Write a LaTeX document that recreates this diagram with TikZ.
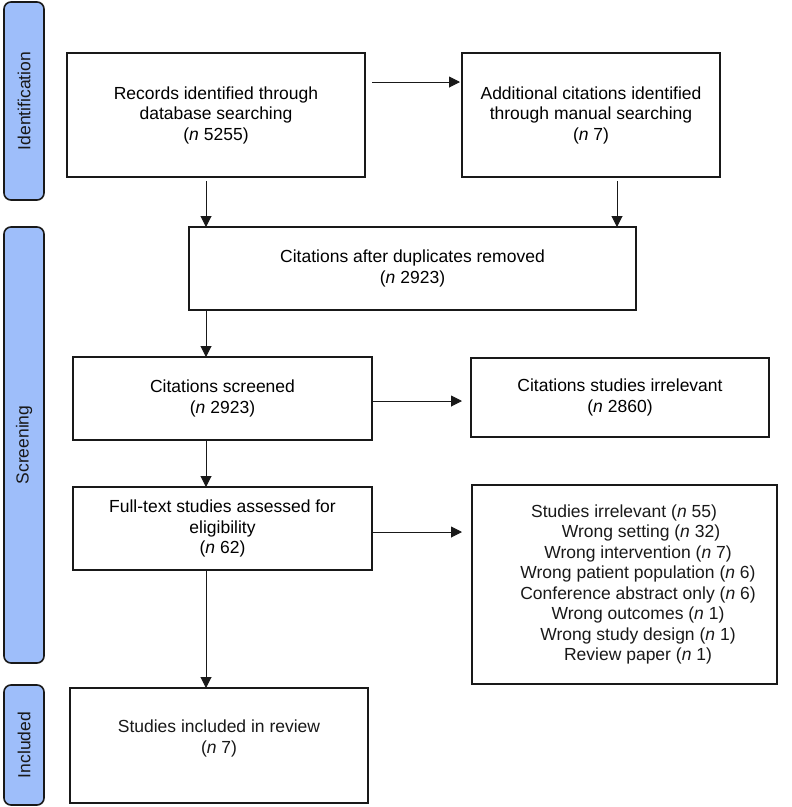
\documentclass[tikz,border=0pt]{standalone}
\usepackage{fontspec}
\setmainfont{Liberation Sans}
\usetikzlibrary{arrows.meta}
\definecolor{barblue}{RGB}{158,190,250}
\definecolor{ink}{RGB}{25,25,25}
\begin{document}
\begin{tikzpicture}[x=1pt,y=-1pt,
  font=\fontsize{17.5}{20.5}\selectfont,
  box/.style={draw=ink,line width=2pt,fill=white,inner sep=0pt,outer sep=0pt,align=center},
  sidebar/.style={draw=ink,line width=1.6pt,fill=barblue,rounded corners=7pt,inner sep=0pt,outer sep=0pt,minimum width=40pt},
  sidetext/.style={rotate=90,text=ink},
  arr/.style={draw=ink,line width=1pt,-{Triangle[length=11pt,width=11pt]}}
]
\useasboundingbox (0,0) rectangle (792,807);

% side bars
\node[sidebar,minimum height=198pt] (sid) at (24,101) {};
\node[sidetext] (sidt) at (sid.center) {Identification};
\node[sidebar,minimum height=436pt] (sscr) at (24,445) {};
\node[sidetext] (sscrt) at (sscr.center) {Screening};
\node[sidebar,minimum height=120pt] (sinc) at (24,745) {};
\node[sidetext] (sinct) at (sinc.center) {Included};

% boxes
\node[box,minimum width=298pt,minimum height=124pt] (b1) at (216,115)
  {Records identified through\\database searching\\(\textit{n} 5255)};
\node[box,minimum width=258pt,minimum height=124pt] (b2) at (591,115)
  {Additional citations identified\\through manual searching\\(\textit{n} 7)};
\node[box,minimum width=447pt,minimum height=83pt] (b3) at (412.5,268.5)
  {Citations after duplicates removed\\(\textit{n} 2923)};
\node[box,minimum width=299pt,minimum height=83pt] (b4) at (222.5,398.5)
  {Citations screened\\(\textit{n} 2923)};
\node[box,minimum width=298pt,minimum height=79pt] (b4r) at (620,397.5)
  {Citations studies irrelevant\\(\textit{n} 2860)};
\node[box,minimum width=299pt,minimum height=83pt] (b5) at (222.5,528.5)
  {Full-text studies assessed for\\eligibility\\(\textit{n} 62)};
\node[box,minimum width=305pt,minimum height=199pt,
  label={[align=center,xshift=13.5pt,inner sep=0pt,text=ink]center:{Studies irrelevant (\textit{n} 55)\rule{28pt}{0pt}\\
   \rule{6pt}{0pt}Wrong setting (\textit{n} 32)\\
   Wrong intervention (\textit{n} 7)\\
   Wrong patient population (\textit{n} 6)\\
   Conference abstract only (\textit{n} 6)\\
   Wrong outcomes (\textit{n} 1)\\
   Wrong study design (\textit{n} 1)\\
   Review paper (\textit{n} 1)}}] (b5r) at (624.5,584.5) {};
\node[box,minimum width=298pt,minimum height=115pt,
  label={[align=center,yshift=7pt,inner sep=0pt,text=ink]center:{Studies included in review\\(\textit{n} 7)}}] (b6) at (219,745.5) {};

% column coordinates
\coordinate (cx) at (206,0);
\coordinate (cx2) at (617,0);
\coordinate (ry1) at (0,82);
\coordinate (ry2) at (0,401);
\coordinate (ry3) at (0,532);

% connectors
\draw[arr,shorten <=7pt,shorten >=2pt] (b1.east |- ry1) -- (b2.west |- ry1);
\draw[arr,shorten <=4pt] (b1.south -| cx) -- (b3.north -| cx);
\draw[arr,shorten <=4pt] (b2.south -| cx2) -- (b3.north -| cx2);
\draw[arr] (b3.south -| cx) -- (b4.north -| cx);
\draw[arr,shorten <=1pt,shorten >=9pt] (b4.east |- ry2) -- (b4r.west |- ry2);
\draw[arr,shorten <=1pt,shorten >=10pt] (b5.east |- ry3) -- (b5r.west |- ry3);
\draw[arr] (b4.south -| cx) -- (b5.north -| cx);
\draw[arr] (b5.south -| cx) -- (b6.north -| cx);
\end{tikzpicture}
\end{document}
